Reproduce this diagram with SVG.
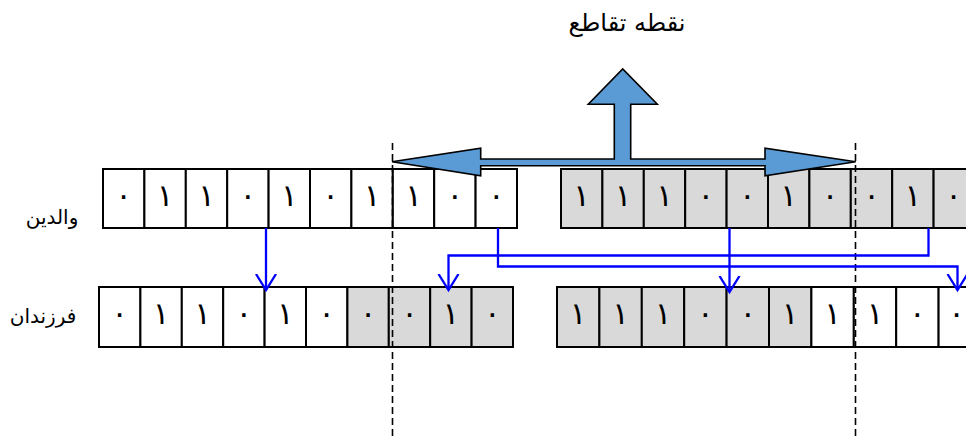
<svg xmlns="http://www.w3.org/2000/svg" width="966" height="439" viewBox="0 0 966 439">
<style>
.c{stroke:#000;stroke-width:2;fill:#fff}
.g{fill:#D9D9D9}
.d{font-family:"DejaVu Sans",sans-serif;font-size:31px;text-anchor:middle;fill:#000}
.lbl{font-family:"DejaVu Sans",sans-serif;font-size:20px;text-anchor:middle;fill:#000}
.ttl{font-family:"DejaVu Sans",sans-serif;font-size:24px;text-anchor:middle;fill:#000}
.dash{stroke:#000;stroke-width:1.6;stroke-dasharray:7,4;fill:none}
.con{stroke:#0000FF;stroke-width:2.3;fill:none;marker-end:url(#v)}
</style>
<defs>
<marker id="v" markerUnits="userSpaceOnUse" markerWidth="24" markerHeight="24" refX="16" refY="10" orient="auto" viewBox="0 0 24 20">
<path d="M0,0 L16,10 L0,20" fill="none" stroke="#0000FF" stroke-width="2.3"/>
</marker>
</defs>
<rect width="966" height="439" fill="#fff"/>

<g id="title"><text class="ttl" x="627" y="31">نقطه تقاطع</text></g>

<g id="label-parents"><text class="lbl" x="52" y="224">والدین</text></g>
<g id="label-children"><text class="lbl" x="43" y="323">فرزندان</text></g>

<g id="parent1">
<rect class="c" x="103" y="169" width="41.4" height="59"/>
<rect class="c" x="144.4" y="169" width="41.4" height="59"/>
<rect class="c" x="185.8" y="169" width="41.4" height="59"/>
<rect class="c" x="227.2" y="169" width="41.4" height="59"/>
<rect class="c" x="268.6" y="169" width="41.4" height="59"/>
<rect class="c" x="310" y="169" width="41.4" height="59"/>
<rect class="c" x="351.4" y="169" width="41.4" height="59"/>
<rect class="c" x="392.8" y="169" width="41.4" height="59"/>
<rect class="c" x="434.2" y="169" width="41.4" height="59"/>
<rect class="c" x="475.6" y="169" width="41.4" height="59"/>
<text class="d" x="123.7" y="206">۰</text>
<text class="d" x="165.1" y="206">۱</text>
<text class="d" x="206.5" y="206">۱</text>
<text class="d" x="247.9" y="206">۰</text>
<text class="d" x="289.3" y="206">۱</text>
<text class="d" x="330.7" y="206">۰</text>
<text class="d" x="372.1" y="206">۱</text>
<text class="d" x="413.5" y="206">۱</text>
<text class="d" x="454.9" y="206">۰</text>
<text class="d" x="496.3" y="206">۰</text>
</g>

<g id="parent2">
<rect class="c g" x="561" y="169" width="41.4" height="59"/>
<rect class="c g" x="602.4" y="169" width="41.4" height="59"/>
<rect class="c g" x="643.8" y="169" width="41.4" height="59"/>
<rect class="c g" x="685.2" y="169" width="41.4" height="59"/>
<rect class="c g" x="726.6" y="169" width="41.4" height="59"/>
<rect class="c g" x="768" y="169" width="41.4" height="59"/>
<rect class="c g" x="809.4" y="169" width="41.4" height="59"/>
<rect class="c g" x="850.8" y="169" width="41.4" height="59"/>
<rect class="c g" x="892.2" y="169" width="41.4" height="59"/>
<rect class="c g" x="933.6" y="169" width="41.4" height="59"/>
<text class="d" x="581.7" y="206">۱</text>
<text class="d" x="623.1" y="206">۱</text>
<text class="d" x="664.5" y="206">۱</text>
<text class="d" x="705.9" y="206">۰</text>
<text class="d" x="747.3" y="206">۰</text>
<text class="d" x="788.7" y="206">۱</text>
<text class="d" x="830.1" y="206">۰</text>
<text class="d" x="871.5" y="206">۰</text>
<text class="d" x="912.9" y="206">۱</text>
<text class="d" x="953.5" y="206">۰</text>
</g>

<g id="child1">
<rect class="c" x="99" y="287" width="41.4" height="60"/>
<rect class="c" x="140.4" y="287" width="41.4" height="60"/>
<rect class="c" x="181.8" y="287" width="41.4" height="60"/>
<rect class="c" x="223.2" y="287" width="41.4" height="60"/>
<rect class="c" x="264.6" y="287" width="41.4" height="60"/>
<rect class="c" x="306" y="287" width="41.4" height="60"/>
<rect class="c g" x="347.4" y="287" width="41.4" height="60"/>
<rect class="c g" x="388.8" y="287" width="41.4" height="60"/>
<rect class="c g" x="430.2" y="287" width="41.4" height="60"/>
<rect class="c g" x="471.6" y="287" width="41.4" height="60"/>
<text class="d" x="119.7" y="324">۰</text>
<text class="d" x="161.1" y="324">۱</text>
<text class="d" x="202.5" y="324">۱</text>
<text class="d" x="243.9" y="324">۰</text>
<text class="d" x="285.3" y="324">۱</text>
<text class="d" x="326.7" y="324">۰</text>
<text class="d" x="368.1" y="324">۰</text>
<text class="d" x="409.5" y="324">۰</text>
<text class="d" x="450.9" y="324">۱</text>
<text class="d" x="492.3" y="324">۰</text>
</g>

<g id="child2">
<rect class="c g" x="557" y="287" width="42.4" height="60"/>
<rect class="c g" x="599.4" y="287" width="42.4" height="60"/>
<rect class="c g" x="641.8" y="287" width="42.4" height="60"/>
<rect class="c g" x="684.2" y="287" width="42.4" height="60"/>
<rect class="c g" x="726.6" y="287" width="42.4" height="60"/>
<rect class="c g" x="769" y="287" width="42.4" height="60"/>
<rect class="c" x="811.4" y="287" width="42.4" height="60"/>
<rect class="c" x="853.8" y="287" width="42.4" height="60"/>
<rect class="c" x="896.2" y="287" width="42.4" height="60"/>
<rect class="c" x="938.6" y="287" width="42.4" height="60"/>
<text class="d" x="578.2" y="324">۱</text>
<text class="d" x="620.6" y="324">۱</text>
<text class="d" x="663" y="324">۱</text>
<text class="d" x="705.4" y="324">۰</text>
<text class="d" x="747.8" y="324">۰</text>
<text class="d" x="790.2" y="324">۱</text>
<text class="d" x="832.6" y="324">۱</text>
<text class="d" x="875" y="324">۱</text>
<text class="d" x="917.4" y="324">۰</text>
<text class="d" x="956.5" y="324">۰</text>
</g>

<g id="cut-lines">
<line class="dash" x1="392.5" y1="143" x2="392.5" y2="439"/>
<line class="dash" x1="855.5" y1="143" x2="855.5" y2="439"/>
</g>

<g id="crossover-arrow">
<polygon points="392,161.7 480.7,148.3 480.7,159 614.3,159 614.3,104.3 588.3,104.3 622.7,69 657.3,104.3 630.7,104.3 630.7,159 765,159 765,148.3 855.7,161.7 765,175.7 765,165.7 480.7,165.7 480.7,175.7" fill="#5B9BD5" stroke="#000" stroke-width="1.6" stroke-linejoin="miter"/>
</g>

<g id="connectors">
<path class="con" d="M266,228 V290"/>
<path class="con" d="M498,228 V266.5 H957.5 V290"/>
<path class="con" d="M928.5,228 V255.5 H448.5 V290"/>
<path class="con" d="M729.5,228 V292"/>
</g>
</svg>
